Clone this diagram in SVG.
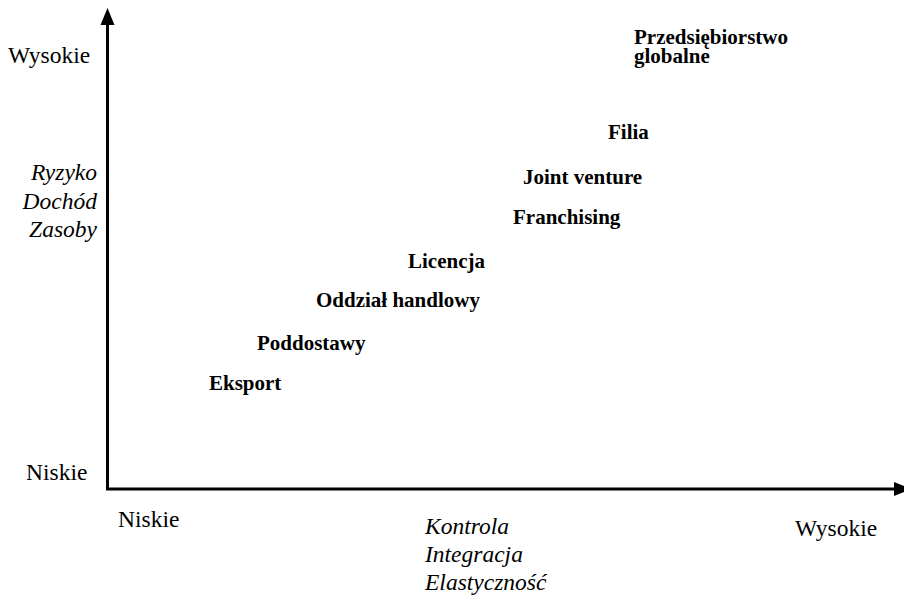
<svg xmlns="http://www.w3.org/2000/svg" width="904" height="597" viewBox="0 0 904 597" font-family="'Liberation Serif', 'Times New Roman', Tinos, 'DejaVu Serif', serif">
  <style>
    text { fill: #000; }
    .tick { font-size: 23.5px; }
    .axis-name { font-size: 23.5px; font-style: italic; }
    .mode { font-size: 21px; font-weight: bold; }
    .axis { stroke: #000; stroke-width: 3; fill: none; }
    .head { fill: #000; stroke: none; }
  </style>

  <rect x="0" y="0" width="904" height="597" fill="#fff"/>

  <!-- axes -->
  <g id="connectors">
    <path class="axis" d="M107.5,22 V489 H897"/>
    <polygon class="head" points="107.5,8 100.5,25 114.5,25"/>
    <polygon class="head" points="911,489 894,482 894,496"/>
  </g>

  <!-- vertical axis labels -->
  <g id="y-high"><text class="tick" x="8" y="63">Wysokie</text></g>
  <g id="y-low"><text class="tick" x="26" y="480">Niskie</text></g>
  <g id="y-name">
    <text class="axis-name" x="97" y="180" text-anchor="end">Ryzyko</text>
    <text class="axis-name" x="97" y="209" text-anchor="end">Dochód</text>
    <text class="axis-name" x="97" y="237" text-anchor="end">Zasoby</text>
  </g>

  <!-- horizontal axis labels -->
  <g id="x-low"><text class="tick" x="118" y="527">Niskie</text></g>
  <g id="x-high"><text class="tick" x="795" y="536">Wysokie</text></g>
  <g id="x-name">
    <text class="axis-name" x="425" y="534">Kontrola</text>
    <text class="axis-name" x="425" y="562">Integracja</text>
    <text class="axis-name" x="425" y="590">Elastyczność</text>
  </g>

  <!-- entry modes -->
  <g id="eksport"><text class="mode" x="209" y="390">Eksport</text></g>
  <g id="poddostawy"><text class="mode" x="257" y="350">Poddostawy</text></g>
  <g id="oddzial"><text class="mode" x="316" y="307">Oddział handlowy</text></g>
  <g id="licencja"><text class="mode" x="408" y="268">Licencja</text></g>
  <g id="franchising"><text class="mode" x="513" y="224">Franchising</text></g>
  <g id="joint-venture"><text class="mode" x="523" y="184">Joint venture</text></g>
  <g id="filia"><text class="mode" x="608" y="139">Filia</text></g>
  <g id="global">
    <text class="mode" x="634" y="44">Przedsiębiorstwo</text>
    <text class="mode" x="634" y="63">globalne</text>
  </g>
</svg>
